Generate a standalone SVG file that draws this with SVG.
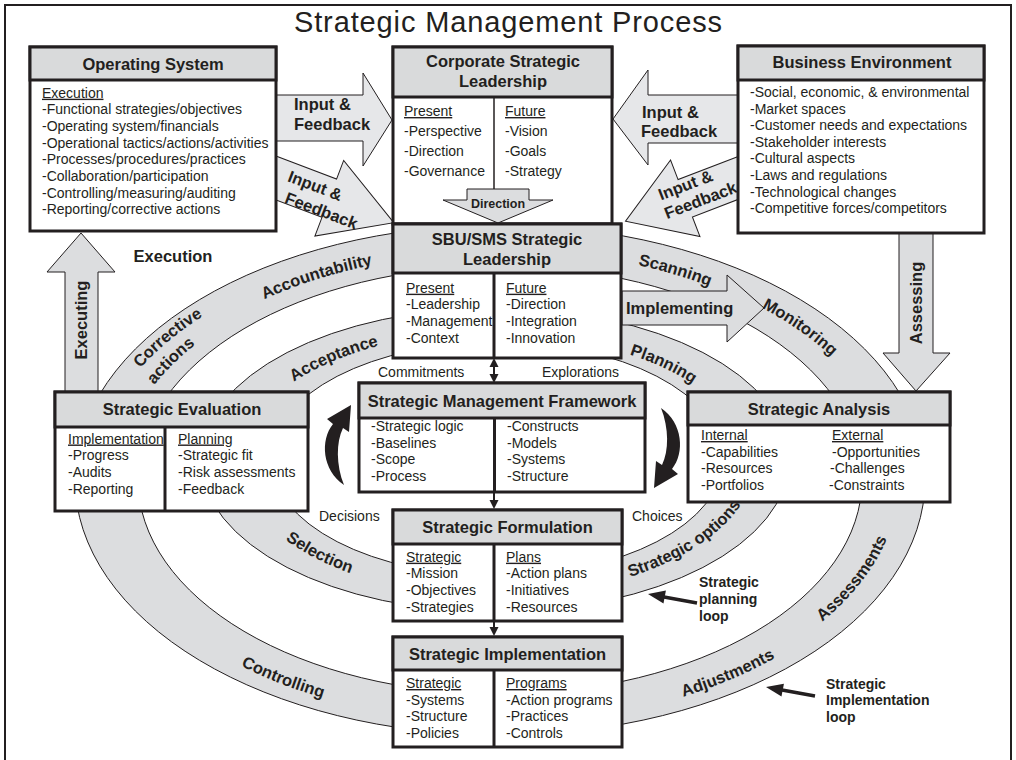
<svg xmlns="http://www.w3.org/2000/svg" width="1016" height="760" viewBox="0 0 1016 760">
<style>
text{font-family:"Liberation Sans",Arial,Helvetica,sans-serif;fill:#231f20}
.t{font-size:14px}
.tb{font-size:14px;font-weight:bold}
.h{font-size:16.5px;font-weight:bold;text-anchor:middle}
.l{font-size:16.5px;font-weight:bold}
.u{text-decoration:underline}
.box{fill:#fff;stroke:#231f20;stroke-width:3}
.hdr{fill:#d9dadb;stroke:#231f20;stroke-width:3}
.dv{stroke:#231f20;stroke-width:3}
.band{fill:#dcdddf;stroke:#231f20;stroke-width:1;fill-rule:evenodd}
.arr{fill:#e6e7e9;stroke:#231f20;stroke-width:1}
.garr{fill:#dcdddf;stroke:#231f20;stroke-width:1}
.blk{fill:#231f20}
.cn{stroke:#231f20;stroke-width:2;fill:none}
.lp{stroke:#231f20;stroke-width:3.5;fill:none}
</style>
<defs>
<path id="p1" d="M232.5,315.5 A386.5,227.9 0 0 1 407.8,258.7"/>
<path id="p2" d="M125.9,386.3 A406.4,239.8 0 0 1 222.8,304.6"/>
<path id="p3" d="M138.3,408.6 A381.4,224.9 0 0 1 218.8,328.1"/>
<path id="p4" d="M581.7,255.3 A389.7,229.8 0 0 1 761.3,309.5"/>
<path id="p5" d="M727.7,291.8 A392.1,231.2 0 0 1 856.8,384.1"/>
<path id="p6" d="M807.0,633.4 A399,240.2 0 0 0 893.3,520.5"/>
<path id="p7" d="M641.4,707.7 A403.8,243.1 0 0 0 811.6,634.6"/>
<path id="p8" d="M197.6,640.5 A403.1,242.7 0 0 0 371.4,710.0"/>
<path id="p9" d="M278.8,393.2 A253.6,128.3 0 0 1 397.3,341.3"/>
<path id="p10" d="M603.5,347.1 A247,124.9 0 0 1 713.7,400.5"/>
<path id="p11" d="M621.7,579.4 A259.3,137.1 0 0 0 745.3,497.3"/>
<path id="p12" d="M264.2,521.4 A259.7,137.3 0 0 0 377.3,581.6"/>
</defs>
<rect width="1016" height="760" fill="#fff"/>
<rect x="5" y="5" width="1006" height="770" fill="#fff" stroke="#231f20" stroke-width="2"/>
<text x="508" y="32" font-size="29" text-anchor="middle" textLength="428" lengthAdjust="spacing">Strategic Management Process</text>

<g id="rings">
<path class="band" d="M75,480 a425,255 0 1,0 850,0 a425,255 0 1,0 -850,0 Z M138,480 a362,214 0 1,0 724,0 a362,214 0 1,0 -724,0 Z"/>
<path class="band" d="M201,460 a294,152 0 1,0 588,0 a294,152 0 1,0 -588,0 Z M271,459 a226,117 0 1,0 452,0 a226,117 0 1,0 -452,0 Z"/>
</g>

<g id="block-arrows">
<polygon class="garr" points="622,291 727,291 727,275 764,308 727,342 727,325 622,325"/>
<polygon class="garr" points="65,392 65,272 47,272 81,233 115,272 98,272 98,392"/>
<polygon class="garr" points="899,233 899,353 883,353 916,391 950,353 933,353 933,233"/>
<polygon class="arr" points="270,95 363,95 363,73 392,120 363,166 363,141 270,141"/>
<polygon class="arr" points="745,95 648,95 648,70 613,119 648,165 648,143 745,143"/>
<g transform="translate(276,178) rotate(20.8)">
<polygon class="arr" points="-10,-20.5 57,-20.5 57,-40.5 126,0 57,40.5 57,20.5 -10,20.5"/>
<text class="l" x="11" y="-1">Input &amp;</text>
<text class="l" x="16" y="20">Feedback</text>
</g>
<g transform="translate(738,178) rotate(-21)">
<polygon class="arr" points="10,-20 -56.5,-20 -56.5,-41 -120.5,0 -56.5,41 -56.5,20 10,20"/>
<text class="l" x="-80" y="-6.5">Input &amp;</text>
<text class="l" x="-81" y="13">Feedback</text>
</g>
<text class="l" x="294" y="110">Input &amp;</text>
<text class="l" x="294" y="130">Feedback</text>
<text class="l" x="642" y="117.5">Input &amp;</text>
<text class="l" x="641" y="137">Feedback</text>
<text class="l" x="626" y="314">Implementing</text>
<text class="l" text-anchor="middle" transform="translate(87,320) rotate(-90)">Executing</text>
<text class="l" text-anchor="middle" transform="translate(922,303) rotate(-90)">Assessing</text>
</g>

<g id="band-labels" class="l">
<text class="l"><textPath href="#p1" startOffset="50%" text-anchor="middle">Accountability</textPath></text>
<text class="l"><textPath href="#p2" startOffset="50%" text-anchor="middle">Corrective</textPath></text>
<text class="l"><textPath href="#p3" startOffset="50%" text-anchor="middle">actions</textPath></text>
<text class="l"><textPath href="#p4" startOffset="50%" text-anchor="middle">Scanning</textPath></text>
<text class="l"><textPath href="#p5" startOffset="50%" text-anchor="middle">Monitoring</textPath></text>
<text class="l"><textPath href="#p6" startOffset="50%" text-anchor="middle">Assessments</textPath></text>
<text class="l"><textPath href="#p7" startOffset="50%" text-anchor="middle">Adjustments</textPath></text>
<text class="l"><textPath href="#p8" startOffset="50%" text-anchor="middle">Controlling</textPath></text>
<text class="l"><textPath href="#p9" startOffset="50%" text-anchor="middle">Acceptance</textPath></text>
<text class="l"><textPath href="#p10" startOffset="50%" text-anchor="middle">Planning</textPath></text>
<text class="l"><textPath href="#p11" startOffset="50%" text-anchor="middle">Strategic options</textPath></text>
<text class="l"><textPath href="#p12" startOffset="50%" text-anchor="middle">Selection</textPath></text>
<text class="l" x="173" y="262" text-anchor="middle">Execution</text>
<text class="t" x="378" y="377" font-weight="normal">Commitments</text>
<text class="t" x="542" y="377" font-weight="normal">Explorations</text>
<text class="t" x="319" y="521" font-weight="normal">Decisions</text>
<text class="t" x="632" y="521" font-weight="normal">Choices</text>
<text class="tb" x="699" y="587">Strategic</text>
<text class="tb" x="699" y="604">planning</text>
<text class="tb" x="699" y="621">loop</text>
<text class="tb" x="826" y="689">Strategic</text>
<text class="tb" x="826" y="705">Implementation</text>
<text class="tb" x="826" y="722">loop</text>
</g>

<g id="operating-system">
<rect class="box" x="30" y="47" width="246" height="184"/>
<rect class="hdr" x="30" y="47" width="246" height="33"/>
<text class="h" x="153" y="70">Operating System</text>
<text class="t u" x="42" y="97.7">Execution</text>
<text class="t" x="42" y="114.3">-Functional strategies/objectives</text>
<text class="t" x="42" y="131">-Operating system/financials</text>
<text class="t" x="42" y="147.7">-Operational tactics/actions/activities</text>
<text class="t" x="42" y="164.3">-Processes/procedures/practices</text>
<text class="t" x="42" y="181">-Collaboration/participation</text>
<text class="t" x="42" y="197.7">-Controlling/measuring/auditing</text>
<text class="t" x="42" y="214.3">-Reporting/corrective actions</text>
</g>

<g id="corporate-strategic-leadership">
<rect class="box" x="393" y="47" width="219" height="177"/>
<rect class="hdr" x="393" y="47" width="219" height="50"/>
<text class="h" x="503" y="67">Corporate Strategic</text>
<text class="h" x="503" y="87">Leadership</text>
<line x1="494" y1="97" x2="494" y2="189" stroke="#231f20" stroke-width="1.5"/>
<text class="t u" x="404" y="116">Present</text>
<text class="t" x="404" y="136">-Perspective</text>
<text class="t" x="404" y="156">-Direction</text>
<text class="t" x="404" y="176">-Governance</text>
<text class="t u" x="505" y="116">Future</text>
<text class="t" x="505" y="136">-Vision</text>
<text class="t" x="505" y="156">-Goals</text>
<text class="t" x="505" y="176">-Strategy</text>
<polygon class="garr" points="467,189 529,189 529,200 553,200 498,223 443,200 467,200"/>
<text x="498" y="208" font-size="12.5" font-weight="bold" text-anchor="middle">Direction</text>
</g>

<g id="business-environment">
<rect class="box" x="738" y="46" width="246" height="187"/>
<rect class="hdr" x="738" y="46" width="246" height="34"/>
<text class="h" x="862" y="68">Business Environment</text>
<text class="t" x="750" y="97">-Social, economic, &amp; environmental</text>
<text class="t" x="750" y="113.6">-Market spaces</text>
<text class="t" x="750" y="130.2">-Customer needs and expectations</text>
<text class="t" x="750" y="146.8">-Stakeholder interests</text>
<text class="t" x="750" y="163.4">-Cultural aspects</text>
<text class="t" x="750" y="180">-Laws and regulations</text>
<text class="t" x="750" y="196.6">-Technological changes</text>
<text class="t" x="750" y="213.2">-Competitive forces/competitors</text>
</g>

<g id="sbu-sms-strategic-leadership">
<rect class="box" x="393" y="224" width="228" height="134"/>
<rect class="hdr" x="393" y="224" width="228" height="49"/>
<text class="h" x="507" y="245">SBU/SMS Strategic</text>
<text class="h" x="507" y="265">Leadership</text>
<line class="dv" x1="494" y1="273" x2="494" y2="358"/>
<text class="t u" x="406" y="292.7">Present</text>
<text class="t" x="406" y="309.3">-Leadership</text>
<text class="t" x="406" y="326">-Management</text>
<text class="t" x="406" y="342.7">-Context</text>
<text class="t u" x="506" y="292.7">Future</text>
<text class="t" x="506" y="309.3">-Direction</text>
<text class="t" x="506" y="326">-Integration</text>
<text class="t" x="506" y="342.7">-Innovation</text>
</g>

<g id="strategic-management-framework">
<rect class="box" x="359" y="383" width="286" height="109"/>
<rect class="hdr" x="359" y="383" width="286" height="35"/>
<text class="h" x="502" y="407">Strategic Management Framework</text>
<line class="dv" x1="494.5" y1="418" x2="494.5" y2="492"/>
<text class="t" x="371" y="431">-Strategic logic</text>
<text class="t" x="371" y="447.7">-Baselines</text>
<text class="t" x="371" y="464.3">-Scope</text>
<text class="t" x="371" y="481">-Process</text>
<text class="t" x="507" y="431">-Constructs</text>
<text class="t" x="507" y="447.7">-Models</text>
<text class="t" x="507" y="464.3">-Systems</text>
<text class="t" x="507" y="481">-Structure</text>
</g>

<g id="strategic-evaluation">
<rect class="box" x="55" y="392" width="253" height="119"/>
<rect class="hdr" x="55" y="392" width="253" height="35"/>
<text class="h" x="182" y="415">Strategic Evaluation</text>
<line class="dv" x1="165" y1="427" x2="165" y2="511"/>
<text class="t u" x="68" y="443.5">Implementation</text>
<text class="t" x="68" y="460.2">-Progress</text>
<text class="t" x="68" y="476.9">-Audits</text>
<text class="t" x="68" y="493.6">-Reporting</text>
<text class="t u" x="178" y="443.5">Planning</text>
<text class="t" x="178" y="460.2">-Strategic fit</text>
<text class="t" x="178" y="476.9">-Risk assessments</text>
<text class="t" x="178" y="493.6">-Feedback</text>
</g>

<g id="strategic-analysis">
<rect class="box" x="688" y="392" width="262" height="110"/>
<rect class="hdr" x="688" y="392" width="262" height="33"/>
<text class="h" x="819" y="415">Strategic Analysis</text>
<text class="t u" x="701" y="440">Internal</text>
<text class="t" x="701" y="456.5">-Capabilities</text>
<text class="t" x="701" y="473">-Resources</text>
<text class="t" x="701" y="489.5">-Portfolios</text>
<text class="t u" x="832" y="440">External</text>
<text class="t" x="832" y="456.5">-Opportunities</text>
<text class="t" x="830" y="473">-Challenges</text>
<text class="t" x="829" y="489.5">-Constraints</text>
</g>

<g id="strategic-formulation">
<rect class="box" x="393" y="510" width="229" height="111"/>
<rect class="hdr" x="393" y="510" width="229" height="34"/>
<text class="h" x="507.5" y="533">Strategic Formulation</text>
<line class="dv" x1="494" y1="544" x2="494" y2="621"/>
<text class="t u" x="406" y="561.7">Strategic</text>
<text class="t" x="406" y="578.3">-Mission</text>
<text class="t" x="406" y="595">-Objectives</text>
<text class="t" x="406" y="611.7">-Strategies</text>
<text class="t u" x="506" y="561.7">Plans</text>
<text class="t" x="506" y="578.3">-Action plans</text>
<text class="t" x="506" y="595">-Initiatives</text>
<text class="t" x="506" y="611.7">-Resources</text>
</g>

<g id="strategic-implementation">
<rect class="box" x="393" y="637" width="229" height="110"/>
<rect class="hdr" x="393" y="637" width="229" height="33"/>
<text class="h" x="507.5" y="660">Strategic Implementation</text>
<line class="dv" x1="494" y1="670" x2="494" y2="747"/>
<text class="t u" x="406" y="688">Strategic</text>
<text class="t" x="406" y="704.7">-Systems</text>
<text class="t" x="406" y="721.3">-Structure</text>
<text class="t" x="406" y="738">-Policies</text>
<text class="t u" x="506" y="688">Programs</text>
<text class="t" x="506" y="704.7">-Action programs</text>
<text class="t" x="506" y="721.3">-Practices</text>
<text class="t" x="506" y="738">-Controls</text>
</g>

<g id="cycle-arrows">
<path class="blk" d="M344,485 C322,470 320,440 333,424 L327,419 L351,405 L349,432 L343,428 C336,442 336,465 344,485 Z"/>
<path class="blk" transform="rotate(180 502.5 446.5)" d="M344,485 C322,470 320,440 333,424 L327,419 L351,405 L349,432 L343,428 C336,442 336,465 344,485 Z"/>
</g>

<g id="connectors">
<line class="cn" x1="494" y1="366" x2="494" y2="375"/>
<polygon class="blk" points="494,358 489.5,367 498.5,367"/>
<polygon class="blk" points="494,383 489.5,374 498.5,374"/>
<line class="cn" x1="494" y1="492" x2="494" y2="501"/>
<polygon class="blk" points="494,509 489.5,500 498.5,500"/>
<line class="cn" x1="494" y1="621" x2="494" y2="628"/>
<polygon class="blk" points="494,636 489.5,627 498.5,627"/>
<line class="lp" x1="697" y1="603" x2="664" y2="597"/>
<polygon class="blk" points="648,594 665.9,590.6 663.5,603.4"/>
<line class="lp" x1="815" y1="696" x2="782" y2="690"/>
<polygon class="blk" points="766,687 783.9,683.7 781.5,696.5"/>
</g>
</svg>
